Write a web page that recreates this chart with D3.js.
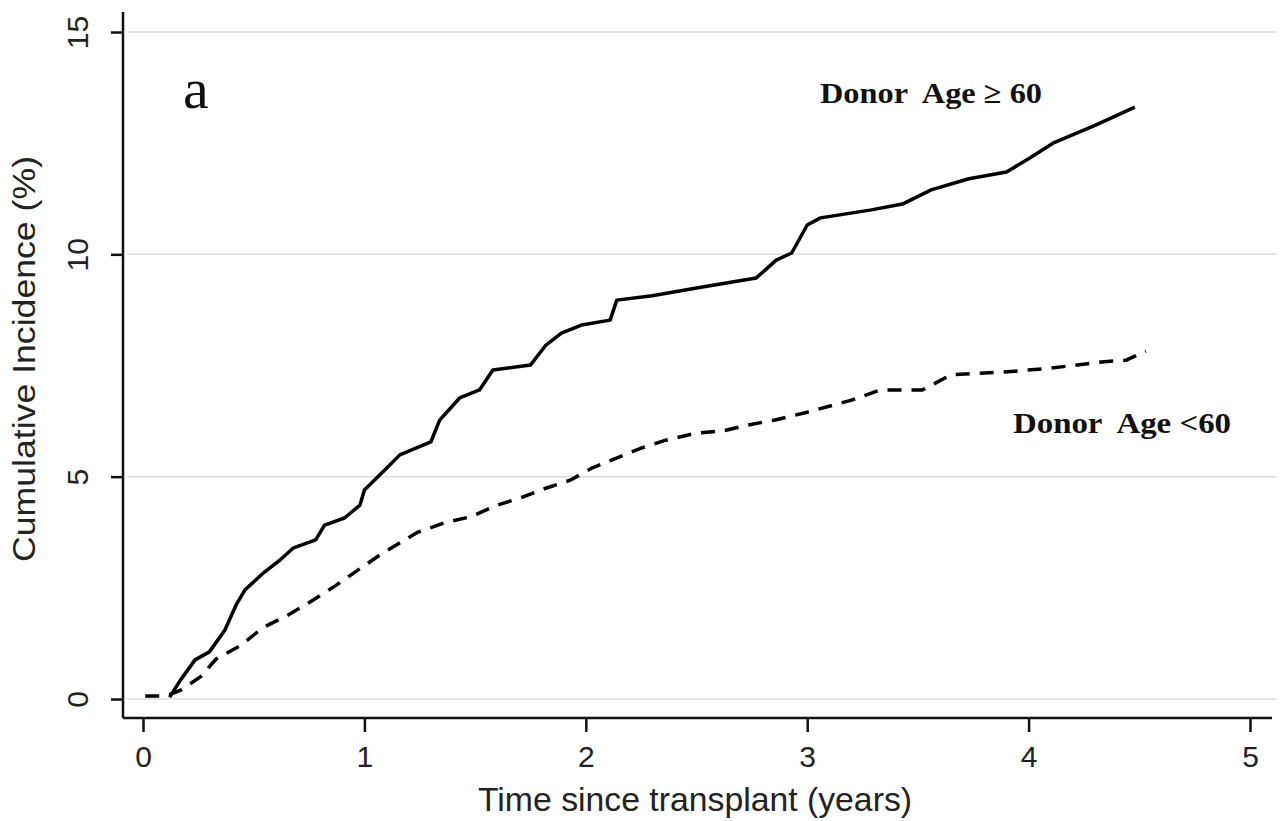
<!DOCTYPE html>
<html><head><meta charset="utf-8">
<script src="https://cdn.jsdelivr.net/npm/d3@7"></script>
<style>body{margin:0;background:#fff;}svg{display:block;}</style>
</head><body>
<svg id="chart" width="1282" height="821"></svg>
<script>
const xTicks = [0, 1, 2, 3, 4, 5];
const yTicks = [0, 5, 10, 15];
const oldX = [0.12,0.17,0.235,0.30,0.37,0.42,0.46,0.51,0.55,0.62,0.68,0.78,0.82,0.91,0.98,1.00,1.10,1.16,1.30,1.34,1.43,1.52,1.58,1.75,1.82,1.89,1.98,2.11,2.14,2.30,2.52,2.77,2.86,2.93,2.96,3.00,3.06,3.29,3.43,3.56,3.73,3.90,4.00,4.11,4.30,4.48];
const oldY = [0.04,0.43,0.88,1.06,1.55,2.11,2.45,2.68,2.86,3.13,3.40,3.58,3.91,4.07,4.36,4.70,5.19,5.49,5.78,6.27,6.77,6.95,7.40,7.51,7.96,8.23,8.41,8.52,8.97,9.07,9.26,9.47,9.87,10.03,10.30,10.66,10.82,11.00,11.13,11.45,11.70,11.85,12.15,12.50,12.90,13.31];
const youngX = [0.01,0.10,0.12,0.17,0.26,0.33,0.44,0.54,0.66,0.76,0.87,1.07,1.24,1.36,1.48,1.60,1.72,1.82,1.93,2.03,2.15,2.25,2.36,2.50,2.62,2.73,2.85,3.00,3.20,3.33,3.52,3.65,3.88,4.10,4.33,4.44,4.53];
const youngY = [0.07,0.07,0.10,0.20,0.50,0.90,1.20,1.60,1.90,2.20,2.55,3.24,3.75,3.96,4.10,4.36,4.55,4.74,4.92,5.20,5.44,5.64,5.82,5.98,6.03,6.16,6.27,6.45,6.72,6.95,6.95,7.29,7.35,7.44,7.58,7.62,7.82];
const seriesLabels = ["Donor  Age \u2265 60", "Donor  Age <60"];

const svg = d3.select("#chart");
const x = d3.scaleLinear().domain([0, 5]).range([143, 1250]);
const y = d3.scaleLinear().domain([0, 15]).range([699, 32]);
const sans = "Liberation Sans, Arial, sans-serif";
const serif = "Liberation Serif, Times New Roman, serif";

// gridlines
svg.append("g").selectAll("line").data(yTicks).join("line")
  .attr("x1", 127).attr("x2", 1276)
  .attr("y1", d => y(d)).attr("y2", d => y(d))
  .attr("stroke", "#dcdcdc").attr("stroke-width", 1.5);

// axes
const yAxis = svg.append("g").attr("transform", "translate(123,0)")
  .call(d3.axisLeft(y).tickValues(yTicks).tickSize(12).tickFormat(d3.format("d")));
yAxis.select(".domain").attr("d", `M0,12V718`);
yAxis.selectAll(".tick text").attr("transform", "rotate(-90)")
  .attr("x", 0).attr("y", -46).attr("dy", "0.35em").attr("text-anchor", "middle");

const xAxis = svg.append("g").attr("transform", "translate(0,718)")
  .call(d3.axisBottom(x).tickValues(xTicks).tickSize(14).tickFormat(d3.format("d")));
xAxis.select(".domain").attr("d", `M123,0H1272`);
xAxis.selectAll(".tick text").attr("y", 28);

svg.selectAll(".domain, .tick line").attr("stroke", "#111").attr("stroke-width", 2.5);
svg.selectAll(".tick text").attr("font-family", sans)
  .attr("font-size", 30).attr("fill", "#222");

// lines
const line = d3.line().x(d => x(d[0])).y(d => y(d[1])).curve(d3.curveLinear);
svg.append("path").datum(d3.zip(oldX, oldY)).attr("d", line)
  .attr("fill", "none").attr("stroke", "#000").attr("stroke-width", 3.5).attr("stroke-linejoin", "round");
svg.append("path").datum(d3.zip(youngX, youngY)).attr("d", line)
  .attr("fill", "none").attr("stroke", "#000").attr("stroke-width", 3.5)
  .attr("stroke-dasharray", "14,10");

// axis titles
svg.append("text").attr("transform", "translate(35,359) rotate(-90)")
  .attr("text-anchor", "middle").attr("font-family", sans)
  .attr("font-size", 31).attr("fill", "#222")
  .attr("textLength", 406).attr("lengthAdjust", "spacingAndGlyphs")
  .text("Cumulative Incidence (%)");
svg.append("text").attr("x", 695).attr("y", 811)
  .attr("text-anchor", "middle").attr("font-family", sans)
  .attr("font-size", 33).attr("fill", "#222")
  .attr("textLength", 434).attr("lengthAdjust", "spacingAndGlyphs")
  .text("Time since transplant (years)");

// annotations
svg.append("text").attr("x", 183).attr("y", 108)
  .attr("font-family", serif)
  .attr("font-size", 58).attr("fill", "#111").text("a");
svg.append("text").attr("x", 820).attr("y", 103).attr("xml:space", "preserve")
  .attr("font-family", serif).attr("font-weight", "bold")
  .attr("font-size", 30).attr("fill", "#111").style("white-space", "pre")
  .attr("textLength", 222).attr("lengthAdjust", "spacingAndGlyphs")
  .text(seriesLabels[0]);
svg.append("text").attr("x", 1013).attr("y", 433).attr("xml:space", "preserve")
  .attr("font-family", serif).attr("font-weight", "bold")
  .attr("font-size", 30).attr("fill", "#111").style("white-space", "pre")
  .attr("textLength", 218).attr("lengthAdjust", "spacingAndGlyphs")
  .text(seriesLabels[1]);
</script>
</body></html>
